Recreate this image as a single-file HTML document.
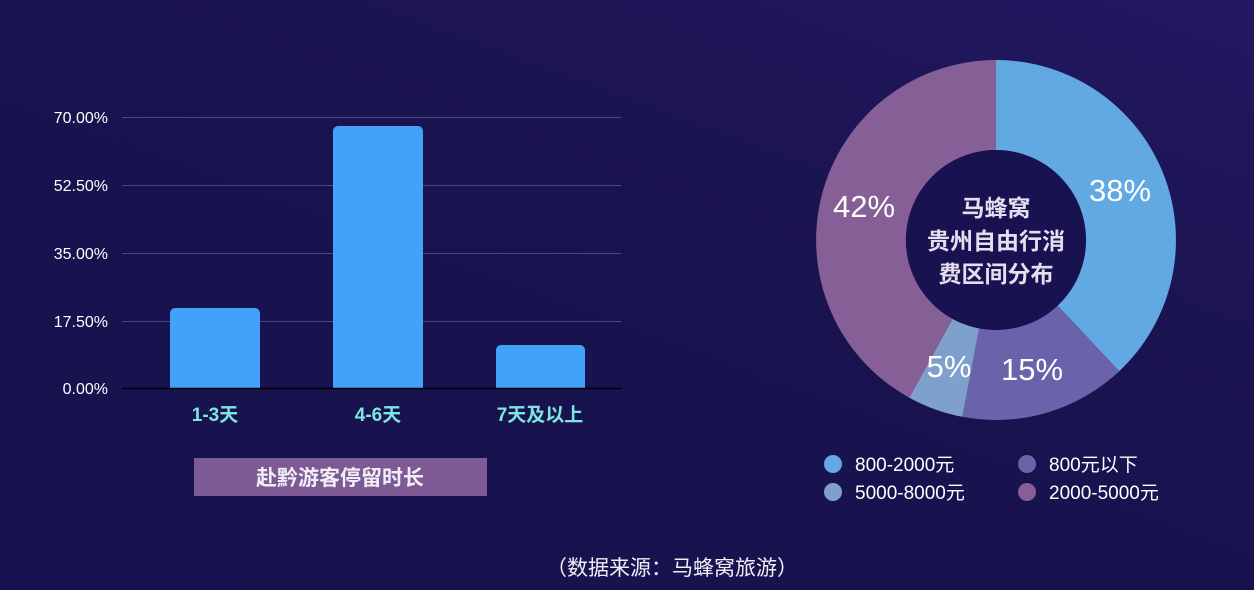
<!DOCTYPE html>
<html><head><meta charset="utf-8"><style>
body{margin:0;width:1254px;height:590px;overflow:hidden;background:linear-gradient(200deg,#241862 0%,#19134f 40%,#17124f 100%);font-family:"Liberation Sans","Noto Sans CJK SC",sans-serif;}
</style></head><body>
<svg width="1254" height="590" xmlns="http://www.w3.org/2000/svg" style="position:absolute;left:0;top:0">
<g stroke="#4a4783" stroke-width="1">
<line x1="122" y1="117.5" x2="621" y2="117.5"/>
<line x1="122" y1="185.5" x2="621" y2="185.5"/>
<line x1="122" y1="253.5" x2="621" y2="253.5"/>
<line x1="122" y1="321.5" x2="621" y2="321.5"/>
</g>
<g fill="#ffffff" font-size="16" text-anchor="end" font-family="Liberation Sans, sans-serif">
<text x="108" y="123">70.00%</text>
<text x="108" y="191">52.50%</text>
<text x="108" y="259">35.00%</text>
<text x="108" y="327">17.50%</text>
<text x="108" y="394">0.00%</text>
</g>
<g fill="#42a1f8">
<path d="M170 388 V313 a5 5 0 0 1 5 -5 H255 a5 5 0 0 1 5 5 V388Z"/>
<path d="M333 388 V131 a5 5 0 0 1 5 -5 H418 a5 5 0 0 1 5 5 V388Z"/>
<path d="M496 388 V350 a5 5 0 0 1 5 -5 H580 a5 5 0 0 1 5 5 V388Z"/>
</g>
<line x1="122" y1="388.5" x2="621" y2="388.5" stroke="#000" stroke-width="1.5"/>
<g fill="#7fe6df" font-size="19" font-weight="bold" text-anchor="middle">
<text x="215" y="421">1-3天</text>
<text x="378" y="421">4-6天</text>
<text x="540" y="421">7天及以上</text>
</g>
<rect x="194" y="458" width="293" height="38" fill="#7e5a94"/>
<text x="340" y="485" fill="#f2eef8" font-size="21" font-weight="bold" text-anchor="middle">赴黔游客停留时长</text>

<path d="M996 60 A180 180 0 0 1 1119.2 371.2 L1057.6 305.6 A90 90 0 0 0 996 150Z" fill="#62a8e2"/>
<path d="M1119.2 371.2 A180 180 0 0 1 962.3 416.8 L979.1 328.4 A90 90 0 0 0 1057.6 305.6Z" fill="#6b62ac"/>
<path d="M962.3 416.8 A180 180 0 0 1 909.3 397.7 L952.6 318.9 A90 90 0 0 0 979.1 328.4Z" fill="#7fa0cb"/>
<path d="M909.3 397.7 A180 180 0 0 1 996 60 L996 150 A90 90 0 0 0 952.6 318.9Z" fill="#855f95"/>
<circle cx="996" cy="240" r="90" fill="#181250"/>
<g fill="#fff" font-size="31" text-anchor="middle" font-family="Liberation Sans, sans-serif">
<text x="1120" y="201">38%</text>
<text x="864" y="217">42%</text>
<text x="1032" y="380">15%</text>
<text x="949" y="377">5%</text>
</g>
<g fill="#e4deee" font-size="23" font-weight="bold" text-anchor="middle">
<text x="996" y="216">马蜂窝</text>
<text x="996" y="249">贵州自由行消</text>
<text x="996" y="282">费区间分布</text>
</g>
<circle cx="833" cy="464" r="9" fill="#62a8e2"/>
<circle cx="833" cy="492" r="9" fill="#7fa0cb"/>
<circle cx="1027" cy="464" r="9" fill="#6b62ac"/>
<circle cx="1027" cy="492" r="9" fill="#855f95"/>
<g fill="#fff" font-size="19">
<text x="855" y="471">800-2000元</text>
<text x="855" y="499">5000-8000元</text>
<text x="1049" y="471">800元以下</text>
<text x="1049" y="499">2000-5000元</text>
</g>
<text x="672" y="575" fill="#f0eef6" font-size="21" text-anchor="middle">（数据来源：马蜂窝旅游）</text>
</svg>
</body></html>
